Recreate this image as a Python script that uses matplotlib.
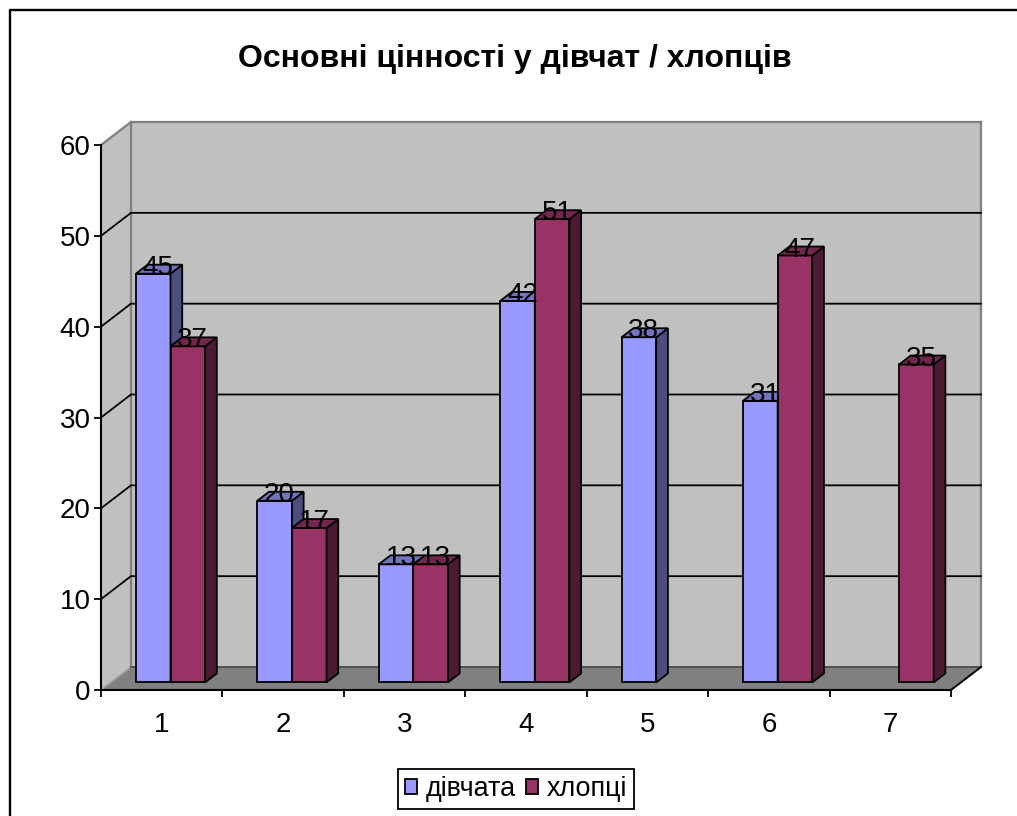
import matplotlib
matplotlib.use("Agg")
import matplotlib.pyplot as plt
from matplotlib.lines import Line2D

plt.rcParams['font.family'] = ['Liberation Sans', 'DejaVu Sans']

title = "Основні цінності у дівчат / хлопців"
categories = ["1", "2", "3", "4", "5", "6", "7"]
girls = [45, 20, 13, 42, 38, 31, None]
boys = [37, 17, 13, 51, None, 47, 35]
y_ticks = [0, 10, 20, 30, 40, 50, 60]

W, H = 1017, 816

# front plane of the chart, in pixels
left, right, top, bottom = 101, 951, 145, 690

# depth of the box and of the bars
px_x = (right - left) / 7
px_y = (bottom - top) / 60
DX = 30 / px_x
DY = 23 / px_y
d_front, d_back = 0.33, 0.72
bar_w = 34.6 / px_x
gap = 25 / px_x

fig = plt.figure(figsize=(W / 100, H / 100), dpi=100)
ax = fig.add_axes([left / W, 1 - bottom / H, (right - left) / W, (bottom - top) / H])
ax.set_xlim(0, 7)
ax.set_ylim(0, 60)
ax.patch.set_visible(False)


def proj(x, v, d):
    return x + d * DX, v + d * DY


def face(points, color, z):
    xs = [p[0] for p in points]
    ys = [p[1] for p in points]
    ax.fill(xs, ys, facecolor=color, edgecolor='none', zorder=z, clip_on=False)


# walls and floor
face([proj(0, 0, 1), proj(7, 0, 1), proj(7, 60, 1), proj(0, 60, 1)], '#C0C0C0', 1)
face([proj(0, 0, 0), proj(0, 0, 1), proj(0, 60, 1), proj(0, 60, 0)], '#C0C0C0', 1)
face([proj(0, 0, 0), proj(7, 0, 0), proj(7, 0, 1), proj(0, 0, 1)], '#808080', 1)

wall = dict(color='#808080', lw=1.6, zorder=2, clip_on=False, solid_capstyle='projecting')
for p, q in [((0, 0), (0, 60)), ((7, 0), (7, 60)), ((0, 60), (7, 60))]:
    a, b = proj(p[0], p[1], 1), proj(q[0], q[1], 1)
    ax.plot([a[0], b[0]], [a[1], b[1]], **wall)
a, b = proj(0, 60, 0), proj(0, 60, 1)
ax.plot([a[0], b[0]], [a[1], b[1]], **wall)
a, b = proj(0, 0, 0), proj(0, 0, 1)
ax.plot([a[0], b[0]], [a[1], b[1]], color='#A0A0A0', lw=1.2, zorder=2, clip_on=False)
a, b = proj(0, 0, 1), proj(7, 0, 1)
ax.plot([a[0], b[0]], [a[1], b[1]], color='#505050', lw=1.4, zorder=2, clip_on=False)
a, b = proj(7, 0, 0), proj(7, 0, 1)
ax.plot([a[0], b[0]], [a[1], b[1]], color='black', lw=1.4, zorder=2, clip_on=False)

# gridlines on both walls
for v in y_ticks[1:-1]:
    a, b, c = proj(0, v, 0), proj(0, v, 1), proj(7, v, 1)
    ax.plot([a[0], b[0], c[0]], [a[1], b[1], c[1]], color='black', lw=1.3, zorder=2, clip_on=False)


def draw_bars(values, offset, front, side, lid, name):
    handle = None
    for i, v in enumerate(values):
        if v is None:
            continue
        x0 = i + gap + d_front * DX + offset * bar_w
        x1 = x0 + bar_w
        base = d_front * DY
        top_v = v + base
        ddx = (d_back - d_front) * DX
        ddy = (d_back - d_front) * DY
        bar = ax.bar(x0, v, width=bar_w, bottom=base, align='edge', color=front,
                     edgecolor='black', linewidth=1.3, zorder=3 + i + offset * 0.1, label=name)
        if handle is None:
            handle = bar
        z = 3 + i + offset * 0.1
        ax.fill([x1, x1 + ddx, x1 + ddx, x1], [base, base + ddy, top_v + ddy, top_v],
                facecolor=side, edgecolor='black', linewidth=1.3, zorder=z)
        ax.fill([x0, x1, x1 + ddx, x0 + ddx], [top_v, top_v, top_v + ddy, top_v + ddy],
                facecolor=lid, edgecolor='black', linewidth=1.3, zorder=z)
        ax.text(x0 + bar_w / 2 + 0.04, top_v + 0.65, str(v), ha='center', va='center',
                fontsize=20, color='black', zorder=20)
    return handle


h1 = draw_bars(girls, 0, '#9999FF', '#4D4D80', '#7373BF', 'дівчата')
h2 = draw_bars(boys, 1, '#993366', '#4D1A33', '#732650', 'хлопці')

# axes
for s in ['top', 'right']:
    ax.spines[s].set_visible(False)
for s in ['left', 'bottom']:
    ax.spines[s].set_linewidth(1.5)
    ax.spines[s].set_zorder(2.5)
ax.set_yticks(y_ticks)
ax.set_xticks(range(8))
ax.set_xticklabels([])
ax.set_xticks([i + 0.5 for i in range(7)], minor=True)
ax.set_xticklabels(categories, minor=True)
ax.tick_params(axis='x', which='major', length=5, width=1.3)
ax.tick_params(axis='x', which='minor', length=0, pad=16, labelsize=20)
ax.tick_params(axis='y', length=5, width=1.3, pad=2.5, labelsize=20)

fig.text(515 / W, 1 - 59 / H, title, ha='center', va='center', fontsize=23, fontweight='bold')

leg = fig.legend(handles=[h1, h2], loc='center', bbox_to_anchor=(516 / W, 1 - 789 / H),
                 ncol=2, fontsize=19.4, frameon=True, fancybox=False, edgecolor='black',
                 framealpha=1, handlelength=0.45, handleheight=0.45, handletextpad=0.3,
                 columnspacing=0.4, borderpad=0.25, borderaxespad=0)
leg.get_frame().set_linewidth(1.3)

# chart border, open on the right and at the bottom
fig.add_artist(Line2D([9.5 / W, 9.5 / W, 1], [0, 1 - 9.5 / H, 1 - 9.5 / H], color='black', lw=1.7,
                      transform=fig.transFigure))

fig.savefig("out.png", dpi=100)
